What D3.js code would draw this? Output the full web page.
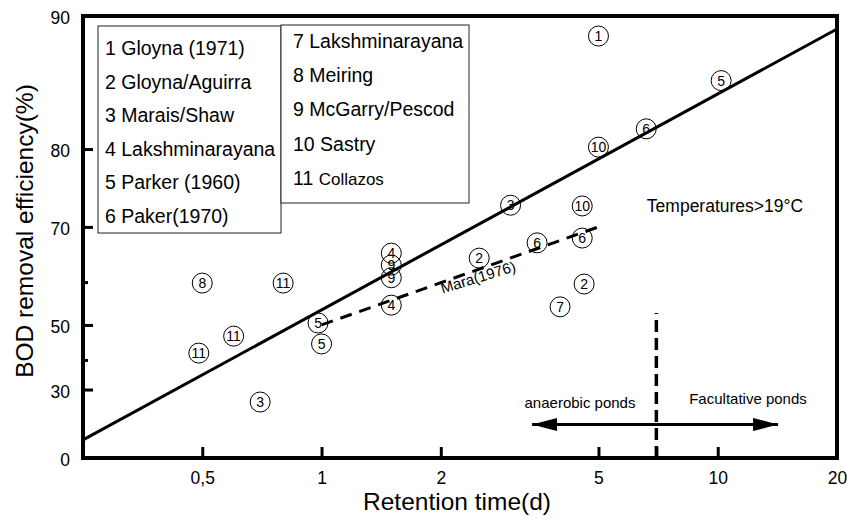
<!DOCTYPE html>
<html>
<head>
<meta charset="utf-8">
<script src="https://cdn.jsdelivr.net/npm/d3@7"></script>
<style>
  body { margin: 0; background: #fff; }
  text { font-family: "Liberation Sans", Arial, Helvetica, sans-serif; fill: #000; }
</style>
</head>
<body>
<div id="graph"></div>
<script>
//legend entries
var studiesLeft = ["1 Gloyna (1971)", "2 Gloyna/Aguirra", "3 Marais/Shaw", "4 Lakshminarayana", "5 Parker (1960)", "6 Paker(1970)"];
var studiesRight = ["7 Lakshminarayana", "8 Meiring", "9 McGarry/Pescod", "10 Sastry", "11 Collazos"];

//points: study number, retention time (d), BOD removal (%)
var pointStudy = [1, 5, 6, 10, 10, 3, 6, 6, 2, 2, 7, 4, 9, 9, 4, 5, 5, 8, 11, 11, 11, 3];
var pointTime = [5, 10.2, 6.6, 5, 4.55, 3.0, 4.55, 3.5, 2.5, 4.6, 4.0, 1.5, 1.5, 1.5, 1.5, 0.98, 1.0, 0.5, 0.8, 0.6, 0.49, 0.7];
var pointEff = [88.9, 86.0, 82.0, 80.2, 73.1, 73.2, 68.2, 67.4, 64.7, 59.6, 54.5, 65.6, 63.4, 60.9, 54.9, 50.5, 44.8, 59.8, 59.8, 47.0, 42.1, 25.3];

//ticks
var xTickValues = [0.5, 1, 2, 5, 10, 20];
var xTickLabels = ["0,5", "1", "2", "5", "10", "20"];
var xMinorTicks = [7];
var yTickValues = [0, 30, 50, 70, 80, 90];
var yMinorTicks = [40, 60];

//lines
var fitTime = [0.25, 20];
var fitEff = [9, 89.3];
var maraTime = [1, 5];
var maraEff = [50, 70];
var boundaryTime = [7, 7];
var boundaryEff = [0, 53];
var arrowTime = [3.4, 14.2];
var arrowEff = [16, 16];

var chartWidth = 847;
var chartHeight = 519;

var svg = d3
  .select("#graph")
  .append("svg")
  .attr("width", chartWidth)
  .attr("height", chartHeight);

var defs = svg.append("defs");
defs
  .append("marker")
  .attr("id", "head")
  .attr("viewBox", "0 0 25 13")
  .attr("refX", 25)
  .attr("refY", 6.5)
  .attr("markerWidth", 25)
  .attr("markerHeight", 13)
  .attr("markerUnits", "userSpaceOnUse")
  .attr("orient", "auto-start-reverse")
  .append("path")
  .attr("d", "M0,0 L25,6.5 L0,13 Z")
  .attr("fill", "#000");

//escalas (x log, y log on the non removed part)
var xScale = d3.scaleLog().domain([0.25, 20]).range([83, 837]);
var yLog = d3.scaleLog().domain([10, 100]).range([16, 458]);
function yPos(e) {
  return yLog(100 - e);
}

//axes
var x_axis = d3
  .axisBottom(xScale)
  .tickValues(xTickValues)
  .tickSize(-11)
  .tickPadding(14)
  .tickFormat(function (d, i) {
    return xTickLabels[i];
  });
var gx = svg.append("g").attr("transform", "translate(0,458)").call(x_axis);
gx.select(".domain").remove();
gx.selectAll("line").attr("stroke", "#000").attr("stroke-width", 3);
gx.selectAll("text").style("font-size", "17.5px").attr("fill", "#000");

var gxm = svg
  .append("g")
  .attr("transform", "translate(0,458)")
  .call(d3.axisBottom(xScale).tickValues(xMinorTicks).tickSize(-11).tickFormat(""));
gxm.select(".domain").remove();
gxm.selectAll("line").attr("stroke", "#000").attr("stroke-width", 3);

var y_axis = d3
  .axisLeft(yLog)
  .tickValues(
    yTickValues.map(function (v) {
      return 100 - v;
    })
  )
  .tickSize(-10)
  .tickPadding(13)
  .tickFormat(function (d) {
    return Math.round(100 - d);
  });
var gy = svg.append("g").attr("transform", "translate(83,0)").call(y_axis);
gy.select(".domain").remove();
gy.selectAll("line").attr("stroke", "#000").attr("stroke-width", 3);
gy.selectAll("text").style("font-size", "17.5px").attr("fill", "#000").attr("dy", "0.45em");

var gym = svg
  .append("g")
  .attr("transform", "translate(83,0)")
  .call(
    d3
      .axisLeft(yLog)
      .tickValues(
        yMinorTicks.map(function (v) {
          return 100 - v;
        })
      )
      .tickSize(-5)
      .tickFormat("")
  );
gym.select(".domain").remove();
gym.selectAll("line").attr("stroke", "#000").attr("stroke-width", 3);

//frame
svg
  .append("rect")
  .attr("x", xScale(0.25))
  .attr("y", yPos(90))
  .attr("width", xScale(20) - xScale(0.25))
  .attr("height", yPos(0) - yPos(90))
  .attr("fill", "none")
  .attr("stroke", "#000")
  .attr("stroke-width", 4);

//axis titles
svg
  .append("text")
  .attr("transform", "translate(33,231) rotate(-90)")
  .attr("text-anchor", "middle")
  .style("font-size", "24.5px")
  .text("BOD removal efficiency(%)");

svg
  .append("text")
  .attr("x", 457)
  .attr("y", 510)
  .attr("text-anchor", "middle")
  .style("font-size", "24.5px")
  .text("Retention time(d)");

//legend boxes
svg
  .append("rect")
  .attr("x", 98)
  .attr("y", 26)
  .attr("width", 183)
  .attr("height", 207)
  .attr("fill", "#fff")
  .attr("stroke", "#222")
  .attr("stroke-width", 1);
svg
  .append("rect")
  .attr("x", 281)
  .attr("y", 25)
  .attr("width", 188)
  .attr("height", 178)
  .attr("fill", "#fff")
  .attr("stroke", "#222")
  .attr("stroke-width", 1);

svg
  .selectAll(".legL")
  .data(studiesLeft)
  .enter()
  .append("text")
  .attr("class", "legL")
  .attr("x", 105)
  .attr("y", function (d, i) {
    return 55 + i * 33.6;
  })
  .style("font-size", "19.5px")
  .text(function (d) {
    return d;
  });

var legR = svg
  .selectAll(".legR")
  .data(studiesRight)
  .enter()
  .append("text")
  .attr("class", "legR")
  .attr("x", 293)
  .attr("y", function (d, i) {
    return 48 + i * 34.2;
  })
  .style("font-size", "19.5px");
legR.each(function (d) {
  var parts = d.split(" ");
  var t = d3.select(this);
  t.append("tspan").text(parts[0] + " ");
  t.append("tspan")
    .style("font-size", parts[0] == "11" ? "17px" : "19.5px")
    .text(parts.slice(1).join(" "));
});

//regression line
svg
  .append("line")
  .attr("x1", xScale(fitTime[0]))
  .attr("y1", yPos(fitEff[0]))
  .attr("x2", xScale(fitTime[1]))
  .attr("y2", yPos(fitEff[1]))
  .attr("stroke", "#000")
  .attr("stroke-width", 3);

//Mara (1976)
svg
  .append("line")
  .attr("x1", xScale(maraTime[0]))
  .attr("y1", yPos(maraEff[0]))
  .attr("x2", xScale(maraTime[1]))
  .attr("y2", yPos(maraEff[1]))
  .attr("stroke", "#000")
  .attr("stroke-width", 3)
  .attr("stroke-dasharray", "12,8");

svg
  .append("text")
  .attr("transform", "translate(478,277) rotate(-17)")
  .attr("text-anchor", "middle")
  .attr("dominant-baseline", "central")
  .style("font-size", "15px")
  .text("Mara(1976)");

//anaerobic / facultative boundary
svg
  .append("line")
  .attr("x1", xScale(boundaryTime[0]))
  .attr("y1", yPos(boundaryEff[0]))
  .attr("x2", xScale(boundaryTime[1]))
  .attr("y2", yPos(boundaryEff[1]))
  .attr("stroke", "#000")
  .attr("stroke-width", 3.5)
  .attr("stroke-dasharray", "12,6");

svg
  .append("line")
  .attr("x1", xScale(arrowTime[0]))
  .attr("y1", yPos(arrowEff[0]))
  .attr("x2", xScale(arrowTime[1]))
  .attr("y2", yPos(arrowEff[1]))
  .attr("stroke", "#000")
  .attr("stroke-width", 3)
  .attr("marker-start", "url(#head)")
  .attr("marker-end", "url(#head)");

svg
  .append("text")
  .attr("x", 580)
  .attr("y", 408)
  .attr("text-anchor", "middle")
  .style("font-size", "15px")
  .text("anaerobic ponds");

svg
  .append("text")
  .attr("x", 748)
  .attr("y", 404)
  .attr("text-anchor", "middle")
  .style("font-size", "15px")
  .text("Facultative ponds");

svg
  .append("text")
  .attr("x", 725)
  .attr("y", 212)
  .attr("text-anchor", "middle")
  .style("font-size", "17.5px")
  .text("Temperatures>19\u00B0C");

//puntos
var pts = svg
  .selectAll(".pt")
  .data(pointStudy)
  .enter()
  .append("g")
  .attr("class", "pt")
  .attr("transform", function (d, i) {
    return "translate(" + xScale(pointTime[i]) + "," + yPos(pointEff[i]) + ")";
  });

pts
  .append("circle")
  .attr("r", 10)
  .attr("fill", "none")
  .attr("stroke", "#000")
  .attr("stroke-width", 1);

pts
  .append("text")
  .attr("text-anchor", "middle")
  .attr("dominant-baseline", "central")
  .style("font-size", "14px")
  .text(function (d) {
    return d;
  });
</script>
</body>
</html>
